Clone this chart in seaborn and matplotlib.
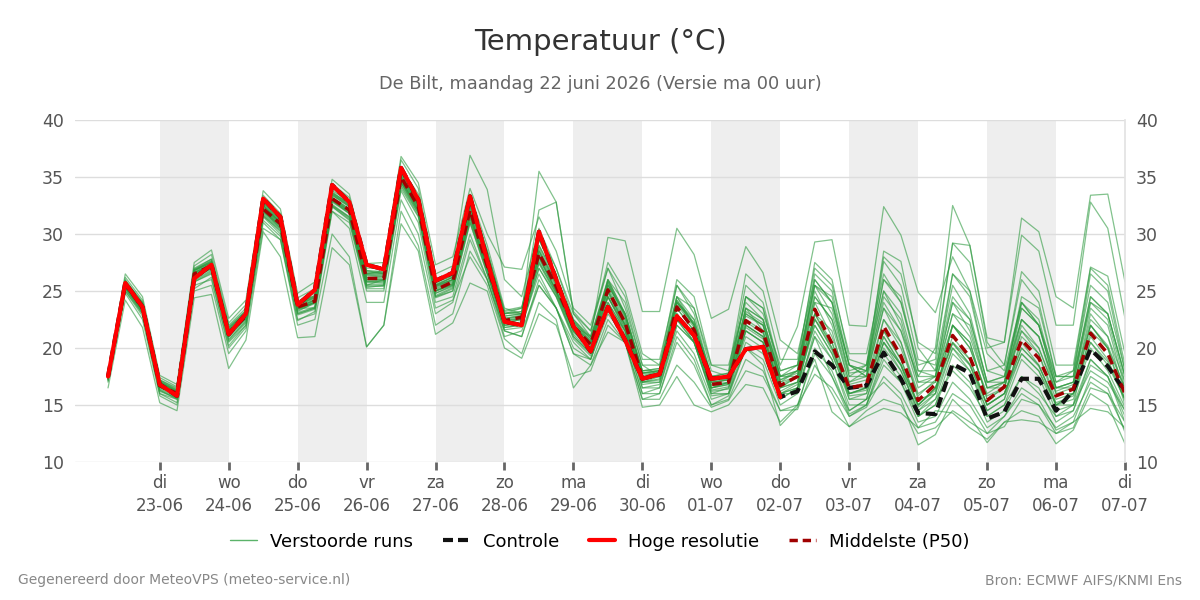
import numpy as np
import pandas as pd
import seaborn as sns
import matplotlib.pyplot as plt
from matplotlib.lines import Line2D


################################################################################

TITLE = "Temperatuur (°C)"
SUBTITLE = "De Bilt, maandag 22 juni 2026 (Versie ma 00 uur)"
FOOT_LEFT = "Gegenereerd door MeteoVPS (meteo-service.nl)"
FOOT_RIGHT = "Bron: ECMWF AIFS/KNMI Ens"

START = "2026-06-22 06:00"
DAY_NAMES = ["ma", "di", "wo", "do", "vr", "za", "zo"]

# deterministic runs, 6-hourly from 22-06 06 UTC
hoge_resolutie = [
  17.5, 25.7, 23.6, 16.8, 15.8, 26.1, 27.3, 21.2, 23.0, 33.1, 31.5, 23.8,
  25.1, 34.3, 32.8, 27.3, 26.9, 35.8, 33.0, 25.9, 26.6, 33.3, 27.7, 22.3,
  22.0, 30.2, 26.0, 21.9, 19.7, 23.6, 20.7, 17.3, 17.7, 22.8, 21.1, 17.3,
  17.5, 19.9, 20.1, 15.7]

controle = [
  17.5, 25.7, 23.6, 16.8, 15.8, 26.1, 27.3, 21.2, 23.0, 33.1, 31.5, 23.8,
  25.1, 34.3, 32.8, 27.3, 26.9, 35.8, 33.0, 25.9, 26.6, 33.3, 27.7, 22.3,
  22.0, 30.2, 26.0, 21.9, 19.7, 23.6, 20.7, 17.3, 17.7, 22.8, 21.1, 17.3,
  17.5, 19.9, 20.1, 15.7, 16.2, 19.7, 18.5, 16.5, 16.7, 19.6, 17.3, 14.3,
  14.2, 18.6, 17.8, 13.8, 14.4, 17.3, 17.3, 14.5, 16.3, 19.9, 18.4, 16.2]

mediaan = [
  17.5, 25.6, 23.5, 16.7, 16.0, 26.5, 27.2, 21.3, 22.8, 32.2, 30.9, 23.6,
  24.1, 33.1, 32.1, 26.1, 26.1, 35.0, 32.4, 25.1, 25.8, 32.1, 27.2, 22.4,
  22.7, 28.3, 25.4, 21.9, 20.3, 25.1, 22.2, 17.4, 17.7, 23.6, 21.6, 16.8,
  17.0, 22.4, 21.4, 16.7, 17.5, 23.4, 20.4, 16.5, 16.8, 21.9, 19.3, 15.4,
  16.8, 21.1, 19.2, 15.4, 16.6, 20.7, 19.1, 15.8, 16.4, 21.3, 19.5, 16.0]

# perturbed members (subset read from the plume)
run_01 = [17.3, 25.9, 24.0, 17.0, 16.2, 27.0, 27.8, 22.0, 23.5, 33.0, 31.5, 24.0,
          25.0, 34.0, 32.8, 26.5, 26.8, 35.8, 33.5, 25.8, 26.5, 33.5, 29.0, 23.5,
          23.0, 35.5, 32.8, 23.2, 21.5, 27.0, 23.5, 18.5, 18.5, 24.5, 22.0, 17.5,
          17.5, 22.8, 22.0, 17.0, 18.0, 25.0, 22.0, 17.0, 17.5, 23.5, 20.5, 16.0,
          17.0, 22.0, 20.0, 15.8, 16.5, 21.5, 19.5, 15.5, 16.0, 22.0, 20.0, 16.5]
run_02 = [17.6, 25.5, 23.2, 16.5, 15.8, 26.3, 27.0, 21.0, 22.5, 32.0, 30.5, 23.2,
          24.0, 33.0, 31.8, 25.5, 26.0, 34.8, 33.0, 25.5, 26.0, 32.8, 28.0, 23.0,
          23.2, 29.5, 26.5, 22.0, 21.0, 29.7, 29.4, 23.2, 23.2, 30.5, 28.2, 22.6,
          23.4, 28.9, 26.6, 20.7, 19.5, 26.0, 24.0, 18.5, 18.0, 25.0, 22.0, 17.0,
          17.5, 24.0, 21.5, 16.5, 16.5, 22.0, 20.0, 16.0, 16.5, 23.0, 21.0, 17.0]
run_03 = [17.4, 25.8, 23.8, 17.2, 16.4, 26.8, 27.5, 21.8, 23.0, 32.5, 31.0, 23.8,
          24.5, 33.5, 32.5, 26.8, 26.5, 35.5, 33.0, 25.5, 26.2, 32.5, 27.5, 22.5,
          22.8, 28.5, 25.8, 22.0, 20.5, 25.5, 23.0, 18.0, 18.0, 24.0, 22.5, 17.5,
          17.8, 24.5, 23.0, 18.5, 21.9, 29.3, 29.5, 22.0, 21.9, 32.4, 29.9, 24.9,
          23.1, 28.0, 25.0, 19.5, 18.0, 24.0, 22.0, 17.5, 17.5, 24.5, 23.0, 17.5]
run_04 = [17.5, 25.4, 23.4, 16.8, 16.0, 26.2, 27.0, 21.0, 22.6, 31.8, 30.5, 23.5,
          24.2, 33.2, 32.0, 26.0, 26.0, 34.5, 32.0, 24.8, 25.5, 31.8, 27.0, 22.5,
          22.5, 28.0, 25.0, 21.5, 20.0, 24.8, 22.0, 17.5, 17.8, 23.8, 21.8, 17.0,
          17.2, 23.5, 22.5, 17.5, 18.0, 24.5, 22.5, 17.5, 17.5, 23.5, 21.5, 17.5,
          20.0, 32.5, 29.0, 20.9, 20.5, 31.4, 30.2, 24.5, 23.5, 33.4, 33.5, 25.8]
run_05 = [17.2, 25.2, 23.0, 16.2, 15.6, 25.8, 26.5, 20.5, 22.0, 31.5, 30.0, 23.0,
          23.5, 32.5, 31.5, 25.5, 25.5, 34.5, 32.5, 25.0, 25.5, 31.5, 27.0, 22.0,
          22.0, 27.5, 24.8, 21.0, 19.5, 24.5, 21.8, 17.0, 17.2, 23.0, 21.0, 16.5,
          16.8, 22.0, 21.0, 16.5, 17.0, 24.0, 23.5, 18.0, 18.5, 28.0, 26.5, 20.5,
          19.5, 29.2, 27.5, 20.0, 20.5, 29.9, 28.5, 22.0, 22.0, 32.8, 30.5, 22.6]
run_06 = [16.5, 24.2, 21.8, 15.2, 14.5, 24.4, 24.7, 18.2, 20.7, 30.2, 28.0, 20.9,
          21.0, 28.8, 27.3, 20.1, 22.0, 30.9, 28.5, 21.2, 22.2, 25.7, 25.0, 20.0,
          19.1, 23.0, 22.0, 17.5, 18.0, 22.0, 20.5, 15.5, 15.5, 18.5, 17.0, 14.8,
          15.4, 18.0, 17.5, 14.5, 15.0, 19.5, 17.5, 14.0, 14.8, 17.5, 16.0, 13.0,
          13.5, 16.0, 15.0, 12.5, 13.1, 15.5, 15.0, 12.5, 13.0, 16.5, 16.0, 12.8]
run_07 = [17.0, 25.0, 23.0, 16.0, 15.5, 25.5, 26.0, 20.0, 21.8, 31.0, 29.5, 22.5,
          23.0, 32.0, 31.0, 25.0, 25.0, 34.0, 31.5, 24.0, 24.5, 30.0, 26.0, 21.5,
          21.0, 26.0, 23.5, 20.0, 19.0, 23.0, 21.0, 16.0, 16.5, 21.5, 19.5, 15.5,
          16.0, 20.5, 19.5, 15.5, 16.5, 21.0, 17.5, 14.5, 15.5, 17.0, 15.5, 11.5,
          12.4, 15.5, 14.0, 11.7, 13.5, 14.5, 14.0, 11.6, 12.8, 16.0, 15.0, 11.6]
run_08 = [17.8, 26.0, 24.0, 17.2, 16.5, 26.8, 27.5, 21.5, 23.0, 32.5, 31.0, 23.5,
          23.5, 32.0, 30.5, 24.0, 24.0, 33.0, 30.0, 23.0, 24.0, 29.5, 26.0, 21.0,
          21.5, 25.5, 23.5, 19.5, 19.0, 23.5, 21.0, 16.0, 16.0, 20.5, 18.5, 15.0,
          15.5, 19.0, 18.0, 14.5, 14.6, 18.5, 16.0, 13.1, 14.0, 14.7, 14.3, 13.0,
          14.5, 14.3, 13.0, 12.0, 13.5, 13.7, 13.5, 12.5, 13.5, 14.7, 14.4, 13.0]
run_09 = [17.6, 25.8, 23.8, 17.0, 16.2, 26.8, 27.6, 21.6, 23.2, 32.6, 31.2, 24.0,
          24.5, 33.6, 32.6, 26.5, 26.5, 35.4, 32.8, 25.5, 26.2, 32.8, 27.8, 22.8,
          23.0, 29.0, 26.0, 22.3, 20.6, 25.6, 22.6, 17.8, 18.0, 24.2, 22.0, 17.2,
          17.3, 23.0, 22.0, 17.2, 17.8, 24.0, 21.0, 16.8, 17.2, 22.5, 20.0, 15.8,
          17.2, 22.0, 20.0, 16.0, 17.0, 21.5, 20.0, 16.2, 16.8, 22.0, 20.2, 16.5]
run_10 = [17.4, 25.3, 23.2, 16.4, 15.7, 26.0, 26.8, 20.8, 22.3, 31.7, 30.4, 23.1,
          23.6, 32.6, 31.5, 25.6, 25.6, 34.5, 31.8, 24.6, 25.3, 31.5, 26.6, 22.0,
          22.3, 27.6, 24.8, 21.4, 19.8, 24.5, 21.7, 17.0, 17.3, 23.0, 21.0, 16.3,
          16.6, 21.8, 20.8, 16.2, 17.0, 22.6, 19.8, 16.0, 16.3, 21.0, 18.6, 15.0,
          16.3, 20.4, 18.6, 15.0, 16.0, 20.0, 18.4, 15.2, 15.8, 20.5, 18.8, 15.4]
run_11 = [17.2, 25.0, 22.8, 16.0, 15.2, 25.0, 25.5, 19.5, 21.5, 30.5, 29.5, 22.0,
          22.5, 30.0, 28.0, 20.1, 22.0, 32.0, 29.0, 22.0, 23.0, 28.5, 26.0, 21.5,
          21.0, 25.5, 23.5, 20.5, 19.0, 23.5, 21.5, 17.0, 17.0, 22.5, 20.5, 16.0,
          16.5, 21.0, 20.0, 16.0, 16.0, 21.0, 19.0, 15.0, 15.0, 19.5, 17.5, 14.0,
          15.0, 18.5, 17.0, 13.5, 14.5, 17.5, 16.5, 13.5, 14.5, 18.5, 17.5, 14.0]
run_12 = [17.7, 26.2, 24.2, 17.4, 16.6, 27.2, 28.2, 22.2, 23.8, 33.4, 31.8, 24.4,
          25.2, 34.4, 33.2, 27.0, 27.0, 36.5, 34.0, 26.5, 27.2, 36.9, 33.9, 26.0,
          24.5, 30.5, 27.0, 22.5, 21.0, 26.0, 23.0, 18.0, 18.2, 24.0, 22.0, 17.0,
          17.2, 22.5, 21.5, 16.8, 17.5, 23.0, 20.5, 16.5, 16.5, 21.5, 19.0, 15.0,
          16.5, 20.5, 19.0, 15.0, 16.0, 20.0, 18.5, 15.0, 15.5, 20.0, 18.0, 14.8]
run_13 = [17.8, 26.5, 24.5, 17.6, 16.8, 27.5, 28.6, 22.6, 24.2, 33.8, 32.2, 24.8,
          25.8, 34.8, 33.5, 27.4, 27.5, 36.8, 34.5, 27.3, 28.0, 34.0, 30.0, 27.1,
          26.9, 31.5, 28.5, 23.5, 22.0, 27.0, 24.5, 19.0, 19.0, 25.5, 23.5, 18.5,
          18.5, 24.0, 22.5, 17.5, 18.5, 25.5, 23.0, 17.8, 18.0, 24.0, 21.5, 16.5,
          17.5, 23.0, 21.0, 16.5, 17.0, 22.5, 21.0, 16.5, 17.0, 24.5, 23.0, 17.5]
run_14 = [17.1, 24.8, 22.5, 15.8, 15.0, 25.2, 26.2, 20.2, 22.0, 31.2, 29.8, 22.4,
          23.2, 32.4, 31.2, 25.2, 25.2, 33.8, 31.0, 23.5, 24.2, 28.0, 25.5, 20.8,
          19.5, 24.0, 22.5, 16.5, 18.5, 22.5, 20.5, 15.5, 16.0, 21.0, 19.0, 15.0,
          15.8, 20.0, 19.0, 15.0, 16.0, 21.5, 19.0, 14.5, 15.5, 20.0, 18.0, 14.5,
          16.0, 20.0, 18.0, 14.5, 15.5, 19.5, 18.0, 14.5, 15.0, 19.0, 17.5, 14.5]
run_15 = [17.4, 25.6, 23.6, 16.9, 16.1, 26.6, 27.3, 21.5, 22.9, 32.3, 31.0, 23.8,
          24.3, 33.4, 32.4, 26.4, 26.3, 35.2, 32.7, 25.4, 26.0, 33.0, 28.5, 23.0,
          23.5, 30.0, 27.0, 23.0, 21.5, 27.5, 25.0, 19.5, 18.5, 26.0, 24.5, 18.5,
          18.0, 26.5, 25.0, 19.0, 19.0, 27.0, 25.5, 19.5, 19.5, 26.5, 24.0, 18.0,
          18.0, 24.5, 22.5, 17.0, 17.5, 23.5, 22.0, 17.0, 17.5, 24.0, 22.5, 17.0]
run_16 = [17.5, 25.7, 23.5, 16.7, 15.9, 26.4, 27.0, 21.2, 22.6, 32.0, 30.8, 23.4,
          24.0, 33.0, 32.0, 25.8, 25.8, 34.8, 32.0, 24.5, 25.0, 31.0, 26.5, 21.8,
          22.0, 26.5, 23.5, 19.5, 18.5, 21.4, 20.5, 14.8, 15.0, 17.5, 15.0, 14.4,
          15.0, 16.8, 16.5, 13.5, 15.0, 17.7, 16.5, 14.0, 15.0, 18.5, 17.0, 14.0,
          15.5, 18.0, 16.5, 14.0, 15.0, 17.5, 16.0, 14.0, 15.0, 18.0, 17.0, 14.5]
run_17 = [17.3, 25.5, 23.3, 16.6, 15.8, 26.2, 26.9, 21.0, 22.7, 32.0, 30.6, 23.3,
          23.9, 32.8, 31.8, 25.8, 25.9, 34.7, 32.2, 25.0, 25.6, 31.8, 27.0, 22.2,
          22.5, 28.0, 25.0, 21.5, 20.0, 24.5, 22.0, 17.2, 17.5, 23.0, 21.0, 16.5,
          16.8, 21.5, 20.5, 16.0, 16.5, 19.0, 14.4, 13.1, 14.5, 15.5, 15.0, 12.5,
          13.0, 14.5, 13.5, 12.5, 14.0, 16.0, 15.0, 13.0, 14.0, 17.0, 16.0, 13.5]
run_18 = [17.6, 25.7, 23.7, 16.9, 16.1, 26.6, 27.4, 21.5, 23.0, 32.4, 31.1, 23.8,
          24.4, 33.4, 32.4, 26.4, 26.4, 35.3, 32.8, 25.4, 26.0, 32.4, 27.6, 22.8,
          23.0, 28.8, 25.8, 22.3, 20.6, 25.8, 22.8, 17.8, 18.0, 24.2, 22.2, 17.2,
          17.4, 23.2, 22.2, 17.2, 18.0, 26.5, 25.0, 18.5, 17.5, 27.6, 25.5, 19.0,
          18.5, 26.5, 24.5, 18.0, 18.5, 26.7, 25.0, 18.5, 18.5, 27.1, 26.3, 19.5]
run_19 = [17.5, 25.6, 23.6, 16.8, 16.0, 26.5, 27.3, 21.4, 22.9, 32.2, 30.9, 23.6,
          24.2, 33.2, 32.2, 26.2, 26.2, 35.0, 32.5, 25.2, 25.9, 32.3, 27.5, 22.6,
          22.9, 32.1, 32.8, 23.0, 21.0, 25.0, 22.0, 17.5, 17.5, 23.5, 21.5, 16.8,
          17.0, 22.0, 21.0, 16.5, 17.5, 23.0, 20.0, 16.0, 16.5, 21.5, 19.0, 15.0,
          16.5, 21.0, 19.0, 15.0, 16.0, 20.5, 18.5, 15.0, 16.0, 21.0, 19.0, 15.5]
run_20 = [17.2, 25.3, 23.2, 16.3, 15.5, 25.8, 26.6, 20.6, 22.2, 31.6, 30.2, 22.9,
          23.4, 32.5, 31.4, 25.4, 25.4, 34.2, 31.6, 24.4, 25.0, 31.0, 26.5, 21.6,
          21.8, 27.0, 24.5, 20.8, 19.3, 24.0, 21.5, 16.5, 16.8, 22.0, 20.5, 15.8,
          16.0, 20.0, 18.5, 13.2, 14.8, 20.0, 18.0, 14.2, 15.0, 19.0, 17.0, 13.5,
          14.0, 17.0, 15.5, 13.0, 14.0, 16.5, 15.5, 12.8, 13.5, 17.5, 16.5, 12.6]
run_21 = [17.4, 25.6, 23.5, 16.7, 16.0, 26.4, 27.1, 21.2, 22.8, 32.1, 30.8, 23.5,
          24.0, 33.0, 32.0, 26.0, 26.0, 34.9, 32.3, 25.0, 25.7, 32.0, 27.0, 22.3,
          22.6, 28.2, 25.2, 21.8, 20.2, 25.0, 22.0, 17.3, 17.6, 23.5, 21.5, 16.7,
          16.9, 22.3, 21.3, 16.6, 17.5, 24.5, 22.5, 17.0, 18.0, 28.5, 27.6, 20.0,
          18.0, 25.5, 23.0, 17.0, 17.5, 24.0, 22.0, 16.5, 17.0, 23.5, 22.0, 16.5]
run_22 = [17.6, 25.8, 23.8, 17.0, 16.2, 26.7, 27.5, 21.6, 23.1, 32.5, 31.2, 23.9,
          24.4, 33.5, 32.5, 26.5, 26.5, 35.4, 33.0, 25.6, 26.2, 32.8, 28.0, 23.0,
          23.2, 29.5, 26.2, 22.5, 20.8, 26.0, 23.0, 18.0, 18.2, 24.5, 22.5, 17.5,
          17.5, 23.5, 22.5, 17.5, 18.0, 25.5, 24.0, 18.5, 18.0, 26.0, 24.0, 18.5,
          19.0, 29.2, 29.0, 20.5, 18.5, 26.0, 24.0, 17.5, 17.5, 26.5, 25.0, 18.0]
run_23 = [17.3, 25.4, 23.4, 16.6, 15.9, 26.3, 27.0, 21.1, 22.7, 31.9, 30.7, 23.4,
          24.0, 32.9, 31.9, 25.9, 25.9, 34.8, 32.2, 25.0, 25.6, 31.7, 27.0, 22.2,
          22.5, 27.8, 25.0, 21.6, 20.0, 25.5, 23.0, 17.8, 17.8, 24.0, 22.0, 17.0,
          17.2, 23.0, 22.0, 17.0, 17.5, 22.0, 19.5, 15.8, 16.0, 20.5, 18.5, 14.8,
          16.0, 22.0, 20.5, 15.5, 16.5, 23.5, 22.0, 16.5, 16.5, 22.5, 21.0, 16.0]
run_24 = [17.7, 25.9, 23.9, 17.1, 16.3, 26.9, 27.8, 21.9, 23.3, 32.8, 31.4, 24.1,
          24.8, 33.8, 32.9, 26.8, 26.7, 35.6, 33.2, 25.7, 26.4, 33.2, 28.5, 23.2,
          23.5, 28.5, 25.5, 22.0, 20.5, 24.5, 21.5, 17.0, 17.5, 23.0, 20.5, 16.5,
          17.0, 22.0, 21.0, 16.5, 17.0, 22.5, 20.0, 16.0, 16.5, 21.0, 18.5, 15.0,
          16.5, 20.5, 18.5, 15.0, 16.0, 19.5, 18.0, 15.0, 16.0, 20.5, 18.5, 15.5]
run_25 = [17.5, 25.9, 23.7, 16.9, 16.1, 26.9, 27.6, 21.7, 23.2, 32.7, 31.3, 23.9,
          24.6, 33.7, 32.6, 26.6, 26.6, 35.5, 33.1, 25.8, 26.3, 33.0, 28.2, 23.1,
          23.0, 28.0, 25.0, 21.5, 20.0, 26.0, 24.0, 18.5, 17.5, 24.5, 23.5, 18.0,
          17.5, 24.5, 23.5, 18.0, 18.5, 25.5, 24.5, 18.5, 17.5, 24.5, 22.5, 17.0,
          17.0, 23.0, 22.0, 16.5, 17.0, 24.5, 23.5, 17.5, 18.0, 25.5, 24.0, 18.0]
run_26 = [17.3, 25.2, 23.1, 16.3, 15.6, 25.9, 26.7, 20.7, 22.4, 31.6, 30.3, 23.0,
          23.5, 32.4, 31.3, 25.3, 25.5, 34.3, 31.8, 24.5, 25.2, 31.2, 26.8, 21.8,
          22.0, 27.0, 24.5, 21.0, 19.5, 24.0, 21.5, 16.5, 16.5, 22.0, 20.5, 16.0,
          16.0, 21.5, 20.5, 15.5, 16.5, 22.5, 20.5, 15.5, 15.5, 20.5, 18.5, 14.0,
          15.0, 19.5, 18.0, 14.0, 15.0, 19.0, 17.5, 14.0, 14.5, 19.0, 17.5, 13.5]
run_27 = [17.4, 25.7, 23.6, 16.8, 16.1, 26.6, 27.4, 21.4, 22.9, 32.3, 31.0, 23.7,
          24.2, 33.2, 32.2, 26.2, 26.3, 35.1, 32.6, 25.3, 26.0, 32.5, 27.5, 22.6,
          22.8, 28.6, 25.6, 22.1, 20.4, 25.3, 22.4, 17.6, 17.9, 24.0, 22.2, 17.2,
          17.3, 24.5, 23.5, 17.5, 17.5, 26.0, 24.0, 17.5, 18.5, 26.0, 24.5, 18.0,
          17.5, 26.5, 25.0, 18.0, 17.5, 22.5, 21.0, 16.5, 17.0, 24.0, 23.0, 17.5]
run_28 = [17.6, 25.5, 23.4, 16.6, 15.9, 26.3, 27.1, 21.1, 22.7, 32.1, 30.7, 23.5,
          24.0, 32.9, 31.8, 25.8, 25.7, 34.6, 32.0, 24.8, 25.4, 31.4, 26.9, 22.0,
          22.2, 27.4, 24.6, 21.2, 19.6, 23.8, 21.2, 16.8, 17.0, 22.5, 20.5, 16.2,
          16.4, 21.5, 20.5, 16.0, 16.8, 22.0, 19.5, 15.5, 16.0, 20.5, 18.0, 14.5,
          15.5, 20.0, 18.5, 14.5, 15.5, 21.0, 19.5, 15.0, 15.0, 21.5, 20.0, 15.0]
run_29 = [17.5, 25.8, 23.9, 17.1, 16.3, 26.8, 27.7, 21.8, 23.3, 32.7, 31.3, 24.0,
          24.6, 33.6, 32.7, 26.7, 26.6, 35.6, 33.2, 25.8, 26.4, 33.4, 28.4, 23.3,
          23.6, 29.0, 26.2, 22.4, 20.8, 25.8, 22.8, 17.8, 18.0, 25.5, 23.0, 17.5,
          17.8, 25.5, 24.0, 18.0, 18.5, 27.5, 26.0, 19.0, 18.5, 25.0, 23.0, 17.5,
          17.5, 24.0, 22.5, 17.0, 17.0, 24.0, 22.5, 17.0, 18.0, 27.0, 25.5, 18.5]
run_30 = [17.5, 25.6, 23.5, 16.7, 16.0, 26.5, 27.2, 21.3, 22.8, 32.2, 30.9, 23.6,
          24.1, 33.1, 32.1, 26.1, 26.1, 35.0, 32.4, 25.1, 25.8, 32.1, 27.2, 22.4,
          22.7, 28.3, 25.4, 21.9, 20.3, 25.1, 22.2, 17.4, 17.8, 22.5, 21.5, 16.5,
          17.0, 23.5, 21.5, 16.0, 16.5, 23.0, 21.5, 16.0, 16.5, 22.5, 20.5, 15.5,
          16.0, 22.0, 20.5, 15.5, 16.5, 22.5, 21.0, 16.0, 16.0, 22.0, 20.0, 15.5]

RUNS = [run_01, run_02, run_03, run_04, run_05, run_06, run_07, run_08,
        run_09, run_10, run_11, run_12, run_13, run_14, run_15, run_16,
        run_17, run_18, run_19, run_20, run_21, run_22, run_23, run_24,
        run_25, run_26, run_27, run_28, run_29, run_30]


def main():

  sns.set_theme(style="white")
  plt.rcParams["font.family"] = ["DejaVu Sans"]

  times = pd.date_range(START, periods=len(mediaan), freq="6h")

  # long form table of all perturbed runs
  ens = pd.concat(
    [pd.DataFrame({"tijd": times, "temp": r, "run": i}) for i, r in enumerate(RUNS)],
    ignore_index=True)
  det = pd.DataFrame({"tijd": times, "controle": controle, "mediaan": mediaan})
  hres = pd.DataFrame({"tijd": times[:len(hoge_resolutie)], "temp": hoge_resolutie})

  fig = plt.figure(figsize=(12, 6), dpi=100)
  ax = fig.add_axes([0.0625, 0.23, 0.875, 0.57])

  # alternating day shading
  day0 = pd.Timestamp("2026-06-22")
  for d in range(1, 15, 2):
    ax.axvspan(day0 + pd.Timedelta(days=d), day0 + pd.Timedelta(days=d + 1),
               color="#eeeeee", lw=0, zorder=0)

  green = "#2e9a40"
  sns.lineplot(data=ens, x="tijd", y="temp", units="run", estimator=None,
               color=green, lw=0.9, alpha=0.6, legend=False, ax=ax)
  sns.lineplot(data=det, x="tijd", y="controle", color="#111111", lw=3,
               ax=ax).lines[-1].set_dashes([2.6, 1.4])
  sns.lineplot(data=det, x="tijd", y="mediaan", color="#a00000", lw=2.5,
               ax=ax).lines[-1].set_dashes([2.8, 1.6])
  sns.lineplot(data=hres, x="tijd", y="temp", color="#ff0000", lw=3, ax=ax)

  ax.set_xlim(day0 - pd.Timedelta(hours=5.5), day0 + pd.Timedelta(days=15))
  ax.set_ylim(10, 40)
  ax.set_yticks(np.arange(10, 41, 5))
  ax.yaxis.grid(True, color="#dddddd", lw=1)
  ax.set_axisbelow(True)

  ticks = [day0 + pd.Timedelta(days=d) for d in range(1, 16)]
  labels = [DAY_NAMES[t.dayofweek] + "\n" + t.strftime("%d-%m") for t in ticks]
  ax.set_xticks(ticks)
  ax.set_xticklabels(labels, linespacing=1.35)
  ax.tick_params(axis="x", length=6, width=2, color="#666666", colors="#555555",
                 labelsize=12, pad=3, bottom=True)
  ax.tick_params(axis="y", length=0, colors="#555555", labelsize=12.5,
                 labelleft=True, labelright=True, pad=8)
  ax.set_xlabel("")
  ax.set_ylabel("")
  for s in ["left", "top", "bottom"]:
    ax.spines[s].set_visible(False)
  ax.spines["right"].set_color("#e3e3e3")

  fig.text(0.5, 0.93, TITLE, ha="center", va="center", fontsize=21, color="#333333")
  fig.text(0.5, 0.86, SUBTITLE, ha="center", va="center", fontsize=12.75, color="#666666")

  handles = [
    Line2D([], [], color="#5bb36a", lw=1),
    Line2D([], [], color="#111111", lw=3, dashes=[2.4, 1.2]),
    Line2D([], [], color="#ff0000", lw=3),
    Line2D([], [], color="#a00000", lw=2.5, dashes=[2.4, 1.4]),
  ]
  names = ["Verstoorde runs", "Controle", "Hoge resolutie", "Middelste (P50)"]
  fig.legend(handles, names, loc="center", bbox_to_anchor=(0.5, 0.097), ncol=4,
             frameon=False, fontsize=13, handlelength=1.45, handletextpad=0.75,
             columnspacing=1.65, labelcolor="black")

  fig.text(0.015, 0.033, FOOT_LEFT, ha="left", va="center", fontsize=10, color="#888888")
  fig.text(0.985, 0.033, FOOT_RIGHT, ha="right", va="center", fontsize=10, color="#888888")

  fig.savefig("out.png", dpi=100)


main()
